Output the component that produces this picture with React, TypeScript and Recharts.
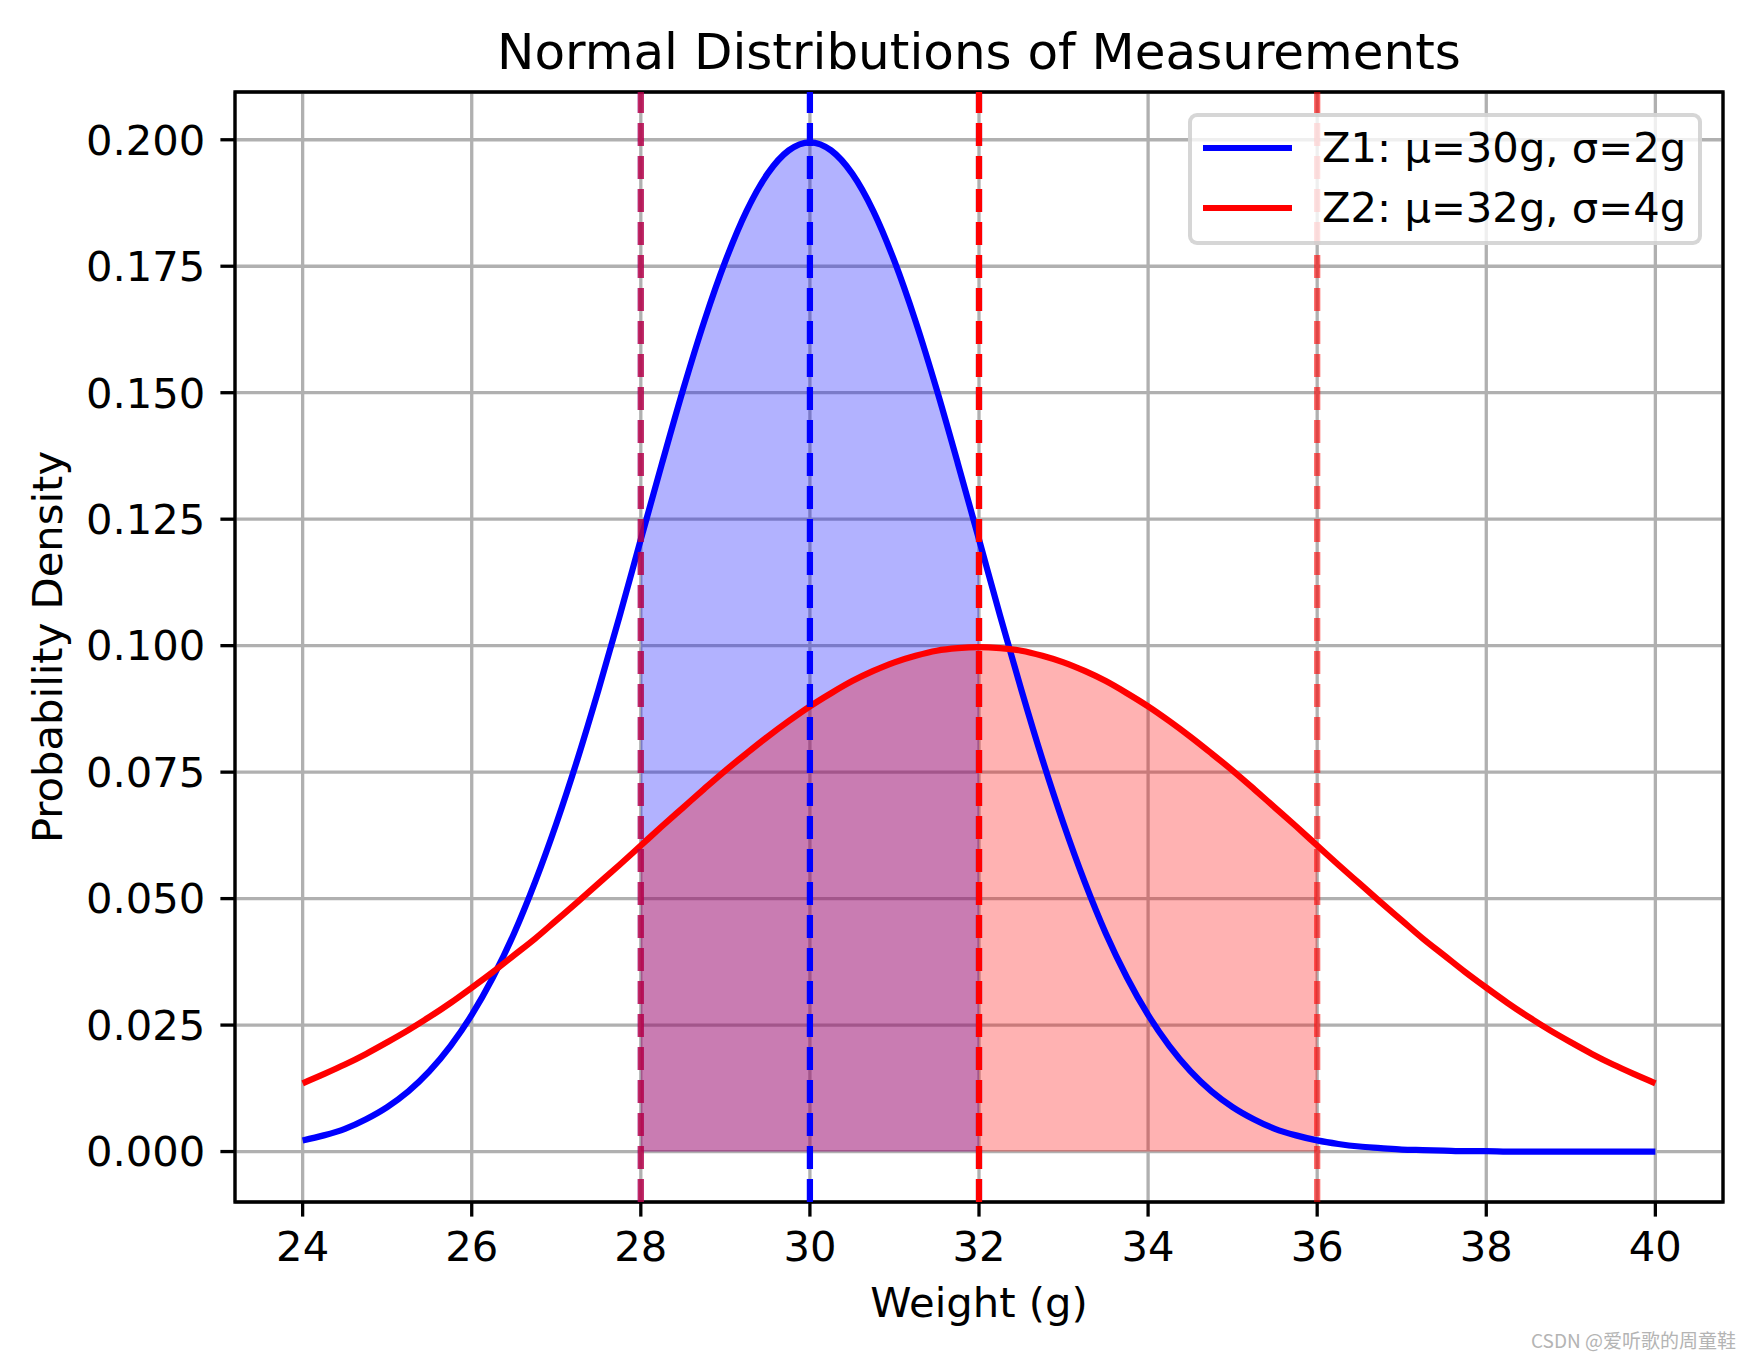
import React from "react";
import {
  ComposedChart,
  Line,
  Area,
  XAxis,
  YAxis,
  CartesianGrid,
  ReferenceLine,
  ReferenceArea,
  Legend,
} from "recharts";

// weight samples (g) and the two densities
const weights = [
  24, 24.25, 24.5, 24.75, 25, 25.25, 25.5, 25.75, 26, 26.25, 26.5, 26.75, 27, 27.25, 27.5,
  27.75, 28, 28.25, 28.5, 28.75, 29, 29.25, 29.5, 29.75, 30, 30.25, 30.5, 30.75, 31, 31.25,
  31.5, 31.75, 32, 32.25, 32.5, 32.75, 33, 33.25, 33.5, 33.75, 34, 34.25, 34.5, 34.75, 35,
  35.25, 35.5, 35.75, 36, 36.25, 36.5, 36.75, 37, 37.25, 37.5, 37.75, 38, 38.25, 38.5, 38.75,
  39, 39.25, 39.5, 39.75, 40,
];
const z1Density = [
  0.0022, 0.0032, 0.0045, 0.0064, 0.0088, 0.0119, 0.0159, 0.0209, 0.027, 0.0344, 0.0431,
  0.0533, 0.0648, 0.0775, 0.0913, 0.1059, 0.121, 0.136, 0.1506, 0.1641, 0.176, 0.1859,
  0.1933, 0.1979, 0.1995, 0.1979, 0.1933, 0.1859, 0.176, 0.1641, 0.1506, 0.136, 0.121,
  0.1059, 0.0913, 0.0775, 0.0648, 0.0533, 0.0431, 0.0344, 0.027, 0.0209, 0.0159, 0.0119,
  0.0088, 0.0064, 0.0045, 0.0032, 0.0022, 0.0015, 0.001, 0.0007, 0.0004, 0.0003, 0.0002,
  0.0001, 0.0001, 0.0, 0.0, 0.0, 0.0, 0.0, 0.0, 0.0, 0.0,
];
const z2Density = [
  0.0135, 0.0153, 0.0172, 0.0193, 0.0216, 0.024, 0.0266, 0.0294, 0.0324, 0.0355, 0.0388,
  0.0421, 0.0457, 0.0493, 0.053, 0.0567, 0.0605, 0.0643, 0.068, 0.0717, 0.0753, 0.0787,
  0.082, 0.0851, 0.088, 0.0906, 0.093, 0.095, 0.0967, 0.098, 0.099, 0.0995, 0.0997, 0.0995,
  0.099, 0.098, 0.0967, 0.095, 0.093, 0.0906, 0.088, 0.0851, 0.082, 0.0787, 0.0753, 0.0717,
  0.068, 0.0643, 0.0605, 0.0567, 0.053, 0.0493, 0.0457, 0.0421, 0.0388, 0.0355, 0.0324,
  0.0294, 0.0266, 0.024, 0.0216, 0.0193, 0.0172, 0.0153, 0.0135,
];

// shaded ranges (mu ± sigma)
const z1Band = [28, 32];
const z2Band = [28, 36];

const xTicks = [24, 26, 28, 30, 32, 34, 36, 38, 40];
const yTicks = [0, 0.025, 0.05, 0.075, 0.1, 0.125, 0.15, 0.175, 0.2];
const xDomain = [23.2, 40.8];
const yDomain = [-0.00997, 0.20944];

const seriesNames = ["Z1: μ=30g, σ=2g", "Z2: μ=32g, σ=4g"];

const FONT = "DejaVu Sans";
const LW = 6.25;
const DASH = "23 10";

const rows = weights.map((x, i) => ({
  x,
  z1: z1Density[i],
  z2: z2Density[i],
  z1Fill: x >= z1Band[0] && x <= z1Band[1] ? z1Density[i] : null,
  z2Fill: x >= z2Band[0] && x <= z2Band[1] ? z2Density[i] : null,
}));

const LegendBox = ({ payload }: any) => {
  const items = (payload || []).filter((p: any) => p.type !== "none");
  return (
    <div
      style={{
        position: "relative",
        boxSizing: "border-box",
        width: 514,
        height: 132,
        border: "4px solid rgba(204,204,204,0.8)",
        borderRadius: 9,
        background: "rgba(255,255,255,0.8)",
        fontFamily: FONT,
        fontSize: 41.7,
        color: "#000",
      }}
    >
      {items.map((item: any, i: number) => (
        <div
          key={item.value}
          style={{
            position: "absolute",
            left: 0,
            top: 1 + i * 60,
            height: 60,
            width: "100%",
            display: "flex",
            alignItems: "center",
          }}
        >
          <div
            style={{
              position: "absolute",
              left: 11,
              top: 27,
              width: 89,
              height: LW,
              background: item.color,
            }}
          />
          <span style={{ position: "absolute", left: 130, lineHeight: 1.164, whiteSpace: "nowrap" }}>
            {item.value}
          </span>
        </div>
      ))}
    </div>
  );
};

const tickStyle = { fill: "#000", fontSize: 41.7, fontFamily: FONT };

export default function App() {
  return (
    <div style={{ position: "absolute", left: 0, top: 0, width: 1753, height: 1357, background: "#fff" }}>
      <div
        style={{
          position: "absolute",
          left: 235,
          width: 1488,
          top: 27,
          textAlign: "center",
          fontFamily: FONT,
          fontSize: 50,
          lineHeight: 1,
          color: "#000",
          whiteSpace: "nowrap",
        }}
      >
        Normal Distributions of Measurements
      </div>
      <ComposedChart
        width={1753}
        height={1357}
        data={rows}
        margin={{ top: 92, right: 30, bottom: 0, left: 0 }}
      >
        <Area
          dataKey="z1Fill"
          type="monotone"
          stroke="none"
          fill="blue"
          fillOpacity={0.3}
          baseValue={0}
          legendType="none"
          dot={false}
          activeDot={false}
          isAnimationActive={false}
        />
        <Area
          dataKey="z2Fill"
          type="monotone"
          stroke="none"
          fill="red"
          fillOpacity={0.3}
          baseValue={0}
          legendType="none"
          dot={false}
          activeDot={false}
          isAnimationActive={false}
        />
        <CartesianGrid stroke="#b0b0b0" strokeWidth={3.3} />
        <XAxis
          dataKey="x"
          type="number"
          domain={xDomain}
          ticks={xTicks}
          allowDataOverflow
          height={155}
          axisLine={false}
          tickSize={14.6}
          tickMargin={15}
          tickLine={{ stroke: "#000", strokeWidth: 3.3 }}
          tick={tickStyle}
          label={{ value: "Weight (g)", position: "center", dy: 22.5, fill: "#000", fontSize: 41.7, fontFamily: FONT }}
        />
        <YAxis
          type="number"
          domain={yDomain}
          ticks={yTicks}
          allowDataOverflow
          width={235}
          axisLine={false}
          tickSize={14.6}
          tickMargin={15}
          tickLine={{ stroke: "#000", strokeWidth: 3.3 }}
          tick={tickStyle}
          tickFormatter={(v: number) => v.toFixed(3)}
          label={{
            value: "Probability Density",
            angle: -90,
            position: "center",
            dx: -70,
            fill: "#000",
            fontSize: 41.7,
            fontFamily: FONT,
          }}
        />
        <Line
          dataKey="z1"
          name={seriesNames[0]}
          type="monotone"
          stroke="blue"
          strokeWidth={LW}
          dot={false}
          activeDot={false}
          isAnimationActive={false}
        />
        <Line
          dataKey="z2"
          name={seriesNames[1]}
          type="monotone"
          stroke="red"
          strokeWidth={LW}
          dot={false}
          activeDot={false}
          isAnimationActive={false}
        />
        <ReferenceLine x={z1Band[0]} stroke="blue" strokeOpacity={0.6} strokeWidth={LW} strokeDasharray={DASH} />
        <ReferenceLine x={30} stroke="blue" strokeWidth={LW} strokeDasharray={DASH} />
        <ReferenceLine x={z1Band[1]} stroke="blue" strokeOpacity={0.6} strokeWidth={LW} strokeDasharray={DASH} />
        <ReferenceLine x={z2Band[0]} stroke="red" strokeOpacity={0.6} strokeWidth={LW} strokeDasharray={DASH} />
        <ReferenceLine x={32} stroke="red" strokeWidth={LW} strokeDasharray={DASH} />
        <ReferenceLine x={z2Band[1]} stroke="red" strokeOpacity={0.6} strokeWidth={LW} strokeDasharray={DASH} />
        <ReferenceArea
          x1={xDomain[0]}
          x2={xDomain[1]}
          y1={yDomain[0]}
          y2={yDomain[1]}
          fill="none"
          fillOpacity={0}
          stroke="#000"
          strokeWidth={3.3}
        />
        <Legend
          layout="vertical"
          align="center"
          verticalAlign="middle"
          content={<LegendBox />}
          wrapperStyle={{ left: 1188, top: 113, width: 514, height: 132 }}
        />
      </ComposedChart>
      <div
        style={{
          position: "absolute",
          right: 17,
          top: 1326,
          fontFamily: "Noto Sans CJK SC",
          fontSize: 19,
          color: "#b4b4b4",
          whiteSpace: "nowrap",
        }}
      >
        CSDN @爱听歌的周童鞋
      </div>
    </div>
  );
}
